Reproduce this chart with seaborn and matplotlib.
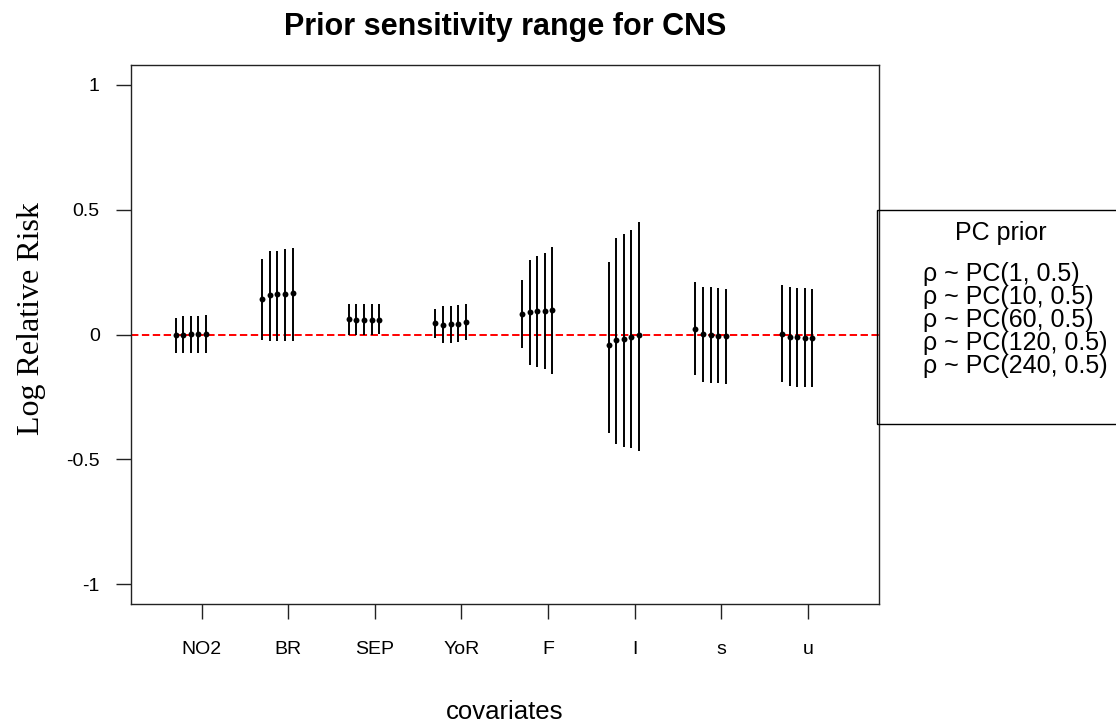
import matplotlib
matplotlib.use("Agg")
import matplotlib.pyplot as plt
from matplotlib.patches import Rectangle
import numpy as np
import pandas as pd
import seaborn as sns

# Covariates on the x axis and the five PC priors used for the sensitivity runs
covariates = ["NO2", "BR", "SEP", "YoR", "F", "I", "s", "u"]
prior_labels = [
    "ρ ~ PC(1, 0.5)",
    "ρ ~ PC(10, 0.5)",
    "ρ ~ PC(60, 0.5)",
    "ρ ~ PC(120, 0.5)",
    "ρ ~ PC(240, 0.5)",
]

# Posterior mean and 95% interval of the log relative risk, one value per prior
NO2_est = [-0.004, 0.000, 0.001, 0.001, 0.003]
NO2_lo = [-0.073, -0.076, -0.076, -0.073, -0.073]
NO2_hi = [0.067, 0.076, 0.076, 0.075, 0.079]

BR_est = [0.143, 0.160, 0.163, 0.164, 0.167]
BR_lo = [-0.024, -0.025, -0.025, -0.025, -0.025]
BR_hi = [0.304, 0.333, 0.336, 0.343, 0.345]

SEP_est = [0.061, 0.060, 0.060, 0.060, 0.060]
SEP_lo = [0.000, -0.004, 0.000, -0.002, 0.002]
SEP_hi = [0.124, 0.124, 0.124, 0.124, 0.124]

YoR_est = [0.045, 0.040, 0.043, 0.044, 0.049]
YoR_lo = [-0.016, -0.033, -0.033, -0.029, -0.024]
YoR_hi = [0.103, 0.113, 0.116, 0.119, 0.123]

F_est = [0.084, 0.092, 0.095, 0.096, 0.099]
F_lo = [-0.056, -0.122, -0.131, -0.140, -0.158]
F_hi = [0.220, 0.297, 0.313, 0.327, 0.349]

I_est = [-0.043, -0.021, -0.017, -0.010, -0.002]
I_lo = [-0.394, -0.440, -0.450, -0.456, -0.467]
I_hi = [0.289, 0.385, 0.404, 0.420, 0.451]

s_est = [0.023, 0.001, -0.002, -0.005, -0.006]
s_lo = [-0.162, -0.192, -0.194, -0.196, -0.197]
s_hi = [0.210, 0.192, 0.189, 0.188, 0.184]

u_est = [0.003, -0.010, -0.011, -0.013, -0.014]
u_lo = [-0.190, -0.206, -0.209, -0.212, -0.212]
u_hi = [0.200, 0.189, 0.188, 0.185, 0.182]

y_ticks = [-1, -0.5, 0, 0.5, 1]
y_tick_labels = ["-1", "-0.5", "0", "0.5", "1"]

estimates = {
    "NO2": (NO2_est, NO2_lo, NO2_hi),
    "BR": (BR_est, BR_lo, BR_hi),
    "SEP": (SEP_est, SEP_lo, SEP_hi),
    "YoR": (YoR_est, YoR_lo, YoR_hi),
    "F": (F_est, F_lo, F_hi),
    "I": (I_est, I_lo, I_hi),
    "s": (s_est, s_lo, s_hi),
    "u": (u_est, u_lo, u_hi),
}

# horizontal shift of each prior within a covariate group
prior_shift = np.linspace(-0.3, 0.05, len(prior_labels))

rows = []
for i, cov in enumerate(covariates):
    est, lo, hi = estimates[cov]
    for j, lab in enumerate(prior_labels):
        rows.append({
            "covariate": cov,
            "prior": lab,
            "xpos": i + 1 + prior_shift[j],
            "est": est[j],
            "lower": lo[j],
            "upper": hi[j],
        })
df = pd.DataFrame(rows)

sns.set_theme(style="ticks")
plt.rcParams["font.family"] = ["Liberation Sans", "DejaVu Sans"]
plt.rcParams["text.color"] = "black"
plt.rcParams["axes.labelcolor"] = "black"
plt.rcParams["xtick.color"] = "black"
plt.rcParams["ytick.color"] = "black"

W, H = 1116, 724
fig = plt.figure(figsize=(W / 100, H / 100), dpi=100)
ax = fig.add_axes([130.5 / W, (H - 604) / H, (879 - 130.5) / W, (604 - 65) / H])

# reference line at zero
ax.axhline(0, color="#ff0000", lw=1.4, ls=(0, (3.8, 1.8)), zorder=1)

# credible intervals and posterior means
ax.vlines(df["xpos"], df["lower"], df["upper"], color="black", lw=1.4, zorder=2)
sns.scatterplot(data=df, x="xpos", y="est", color="black", s=18,
                linewidth=0, legend=False, ax=ax, zorder=3)

ax.set_xlim(0.18, 8.82)
ax.set_ylim(-1.08, 1.08)
ax.set_xticks(np.arange(1, len(covariates) + 1))
ax.set_xticklabels(covariates)
ax.set_yticks(y_ticks)
ax.set_yticklabels(y_tick_labels)

for sp in ax.spines.values():
    sp.set_visible(True)
    sp.set_linewidth(1.0)
    sp.set_color("#222222")

ax.tick_params(axis="both", length=10.8, width=1.0, color="#222222",
               labelsize=14, labelcolor="black")
ax.tick_params(axis="y", pad=11.3)
ax.tick_params(axis="x", pad=15.5)

ax.set_xlabel("covariates", fontsize=18.5, color="black")
ax.xaxis.set_label_coords(0.5, -0.178)
ax.set_ylabel("Log Relative Risk", fontsize=23, color="black",
              family=["Liberation Serif", "DejaVu Serif"])
ax.yaxis.set_label_coords(-0.113, 0.53)

fig.text(505 / W, 1 - 35 / H, "Prior sensitivity range for CNS",
         ha="center", va="baseline", fontsize=22, fontweight="bold", color="black")

# legend box for the PC priors, running past the right edge of the figure
fig.add_artist(Rectangle((877 / W, 1 - 424 / H), (1140 - 877) / W, (424 - 210) / H,
                         transform=fig.transFigure, fill=False, lw=1.0,
                         edgecolor="black", clip_on=False))
fig.text(1001 / W, 1 - 233 / H, "PC prior", ha="center", va="center",
         fontsize=18, color="black")
for k, lab in enumerate(prior_labels):
    fig.text(923 / W, 1 - (274 + 23 * k) / H, lab, ha="left", va="center",
             fontsize=18, color="black")

fig.savefig("out.png", dpi=100)
